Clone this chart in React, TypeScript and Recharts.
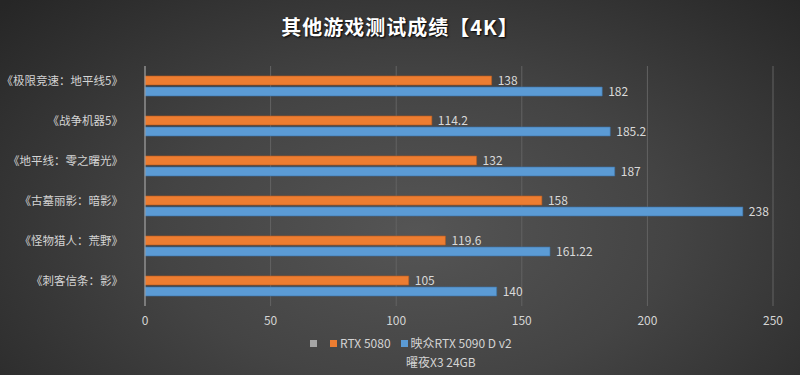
import React from 'react'
import { BarChart, Bar, XAxis, YAxis, CartesianGrid, LabelList } from 'recharts'

const games = [
  '《极限竞速：地平线5》',
  '《战争机器5》',
  '《地平线：零之曙光》',
  '《古墓丽影：暗影》',
  '《怪物猎人：荒野》',
  '《刺客信条：影》',
]
const rtx5080 = [138, 114.2, 132, 158, 119.6, 105]
const rtx5090d = [182, 185.2, 187, 238, 161.22, 140]
const xTicks = [0, 50, 100, 150, 200, 250]

const seriesNames = ['RTX 5080', '映众RTX 5090 D v2', '曜夜X3 24GB']
const ORANGE = '#ED7D31'
const BLUE = '#5B9BD5'
const FONT = '"Noto Sans CJK SC", "Noto Sans", sans-serif'

const data = games.map((g, i) => ({ game: g, a: rtx5080[i], b: rtx5090d[i] }))

function GameTick({ x, y, payload }: { x?: number; y?: number; payload?: { value: string } }): React.ReactElement {
  return (
    <text x={(x ?? 0) - 14} y={(y ?? 0) - 4} textAnchor="end" dominantBaseline="middle" fill="#d4d4d4" fontSize={11.5} fontFamily={FONT}>
      {payload?.value}
    </text>
  )
}

function LegendBox({ color }: { color: string }): React.ReactElement {
  return <span style={{ display: 'inline-block', width: 7, height: 7, background: color, marginRight: 3, verticalAlign: 'middle', position: 'relative', top: -1 }} />
}

export default function App(): React.ReactElement {
  return (
    <div
      style={{
        position: 'absolute', left: 0, top: 0, width: 800, height: 375, overflow: 'hidden',
        background: 'radial-gradient(ellipse 70% 90% at 52% 62%, #555555 0%, #444444 45%, #2e2e2e 85%, #262626 100%)',
        fontFamily: FONT,
      }}
    >
      <div style={{ position: 'absolute', top: 12, width: 800, textAlign: 'center', color: '#ffffff', fontSize: 20, fontWeight: 700, letterSpacing: 1, textShadow: '1px 1px 2px #000' }}>
        其他游戏测试成绩【4K】
      </div>
      <BarChart
        width={800}
        height={375}
        data={data}
        layout="vertical"
        margin={{ top: 66, right: 27, left: 0, bottom: 39 }}
        barSize={9}
        barGap={2}
      >
        <CartesianGrid horizontal={false} stroke="#636363" />
        <XAxis
          type="number"
          domain={[0, 250]}
          ticks={xTicks}
          axisLine={false}
          tickLine={false}
          height={30}
          tick={{ fill: '#d4d4d4', fontSize: 12, fontFamily: FONT }}
          tickMargin={4}
        />
        <YAxis
          type="category"
          dataKey="game"
          width={145}
          axisLine={{ stroke: '#a6a6a6' }}
          tickLine={false}
          tick={<GameTick />}
        />
        <Bar dataKey="a" name={seriesNames[0]} fill={ORANGE} stroke="#b85c1e" strokeWidth={0.6} isAnimationActive={false}>
          <LabelList dataKey="a" position="right" offset={6} fill="#d9d9d9" fontSize={12} fontFamily={FONT} />
        </Bar>
        <Bar dataKey="b" name={seriesNames[1]} fill={BLUE} stroke="#3d74a8" strokeWidth={0.6} isAnimationActive={false}>
          <LabelList dataKey="b" position="right" offset={6} fill="#d9d9d9" fontSize={12} fontFamily={FONT} />
        </Bar>
      </BarChart>
      <div style={{ position: 'absolute', left: 310, top: 333, color: '#d4d4d4', fontSize: 12, lineHeight: '19px', whiteSpace: 'nowrap' }}>
        <span style={{ marginRight: 10 }}><LegendBox color="#a6a6a6" /></span>
        <span style={{ marginRight: 10 }}><LegendBox color={ORANGE} />{seriesNames[0]}</span>
        <span><LegendBox color={BLUE} />{seriesNames[1]}</span>
      </div>
      <div style={{ position: 'absolute', left: 406, top: 352, color: '#d4d4d4', fontSize: 12, lineHeight: '19px', whiteSpace: 'nowrap' }}>
        {seriesNames[2]}
      </div>
    </div>
  )
}
